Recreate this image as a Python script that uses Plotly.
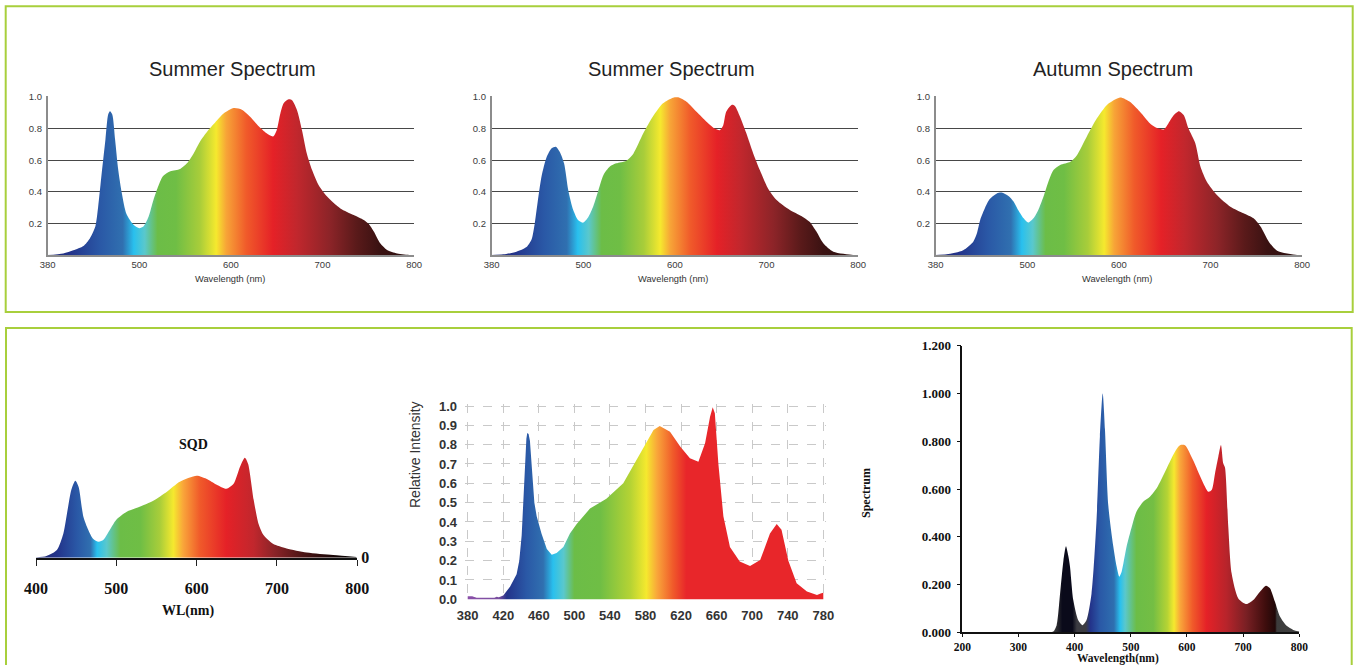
import plotly.graph_objects as go

W, H = 1354, 665

# ---------------- data ----------------
summer1_wl = [400, 417, 428, 439, 446, 452, 455, 459, 463, 466, 468, 470.5, 473.6, 477, 481, 486, 494, 500,
              504.5, 510, 515.5, 521, 526, 534, 544.6, 552, 559, 566.5, 574, 583, 592, 603, 612, 621, 630,
              639, 646, 650, 654, 657.6, 663, 666.7, 672, 677.6, 683, 688.5, 696, 705, 719.5, 734, 745,
              750.5, 756, 763, 770.5, 781.5, 796, 800]
summer1_val = [0, 0.01, 0.03, 0.057, 0.105, 0.18, 0.3, 0.52, 0.73, 0.89, 0.91, 0.89, 0.73, 0.54, 0.39, 0.26,
               0.19, 0.17, 0.18, 0.24, 0.35, 0.44, 0.5, 0.53, 0.545, 0.58, 0.64, 0.72, 0.78, 0.84, 0.895, 0.93,
               0.92, 0.875, 0.816, 0.77, 0.75, 0.79, 0.895, 0.96, 0.985, 0.98, 0.92, 0.79, 0.64, 0.54, 0.44,
               0.37, 0.295, 0.253, 0.222, 0.196, 0.148, 0.074, 0.032, 0.01, 0, 0]

summer2_wl = [400, 412.7, 427, 438, 443.6, 447, 451, 454.5, 460, 465.5, 470, 474.5, 479, 483.6, 489, 494.5,
              500, 505.5, 511, 516, 522, 529, 536, 547, 554.5, 565.5, 576, 587, 598, 603.6, 612.7, 623.6,
              634.5, 643.6, 649, 652.7, 656, 662, 665.5, 671, 678, 685.5, 692.7, 701.8, 711, 725.5, 738,
              747, 754.5, 762, 773, 794.5, 800]
summer2_val = [0, 0.004, 0.02, 0.05, 0.1, 0.2, 0.37, 0.5, 0.62, 0.675, 0.685, 0.65, 0.58, 0.41, 0.285, 0.22,
               0.205, 0.24, 0.31, 0.4, 0.506, 0.56, 0.58, 0.597, 0.64, 0.77, 0.876, 0.96, 0.996, 0.998, 0.97,
               0.907, 0.844, 0.8, 0.79, 0.82, 0.907, 0.95, 0.943, 0.876, 0.77, 0.643, 0.538, 0.42, 0.348,
               0.285, 0.247, 0.21, 0.148, 0.074, 0.02, 0, 0]

autumn_wl = [400, 412, 430, 441, 445, 448.5, 454, 459, 466.7, 472, 479.4, 485, 490, 496, 501, 506.7, 512,
             517.7, 523, 528.6, 535.9, 547, 554, 565, 576, 587, 598, 603, 612, 623, 634, 643, 649, 654, 660,
             665.6, 670.7, 676, 683.4, 689, 696, 707, 721.7, 736, 747, 754.6, 763.7, 772.7, 794.5, 800]
autumn_val = [0, 0.004, 0.03, 0.084, 0.137, 0.22, 0.3, 0.354, 0.39, 0.395, 0.373, 0.338, 0.285, 0.232, 0.205,
              0.232, 0.285, 0.37, 0.464, 0.538, 0.57, 0.59, 0.63, 0.75, 0.865, 0.95, 0.99, 0.996, 0.97,
              0.907, 0.833, 0.8, 0.795, 0.833, 0.886, 0.91, 0.886, 0.8, 0.707, 0.56, 0.464, 0.38, 0.306,
              0.264, 0.232, 0.18, 0.084, 0.027, 0, 0]

sqd_wl = [400, 413, 426, 434, 440, 444, 449, 453, 459, 465, 471, 478, 484, 492, 500, 513, 529, 546, 563, 579,
          600, 612, 625, 637, 646, 654, 660, 664, 671, 677, 683, 695, 712, 737, 770, 799]
sqd_val = [0.003, 0.017, 0.077, 0.24, 0.51, 0.68, 0.77, 0.71, 0.41, 0.28, 0.19, 0.16, 0.18, 0.28, 0.38, 0.46,
           0.51, 0.57, 0.66, 0.76, 0.82, 0.79, 0.73, 0.69, 0.74, 0.91, 1.0, 0.94, 0.58, 0.34, 0.23, 0.14,
           0.093, 0.053, 0.027, 0.007]

rel_wl = [380, 385, 390, 400, 410, 412.6, 415, 420, 427.6, 435, 438, 440.7, 442.5, 444.5, 446, 447, 448.5,
          450, 452, 455, 457.6, 463, 469, 474.5, 480, 487.6, 495, 502.6, 517.6, 536, 555, 574, 589, 596,
          607.6, 619, 630, 639.5, 647, 652.6, 655.6, 658, 662, 667.6, 675, 686, 697.6, 709, 720, 727.6,
          733, 740.7, 750, 761.6, 772.9, 777, 780]
rel_val = [0.016, 0.016, 0.008, 0.007, 0.008, 0.013, 0.01, 0.02, 0.065, 0.13, 0.2, 0.33, 0.5, 0.72, 0.83,
           0.86, 0.855, 0.82, 0.67, 0.5, 0.43, 0.34, 0.26, 0.23, 0.24, 0.27, 0.34, 0.39, 0.47, 0.52, 0.6,
           0.755, 0.876, 0.897, 0.867, 0.79, 0.73, 0.712, 0.807, 0.945, 0.993, 0.962, 0.7, 0.43, 0.27, 0.195,
           0.172, 0.203, 0.34, 0.39, 0.36, 0.2, 0.083, 0.04, 0.022, 0.03, 0.034]

spec_wl = [200, 356, 362, 368, 374, 380, 384.6, 388.7, 391.7, 397.6, 406.5, 414, 421, 430, 439, 445, 450, 454,
           460, 468.8, 474.8, 479.5, 483.7, 492.6, 501.5, 510, 522, 534, 546, 563.8, 578.6, 587.5, 596.4,
           611, 626, 638, 644, 650, 655.8, 660.5, 664.7, 667.7, 673.6, 679.5, 691.4, 706, 718, 730, 740.7,
           747.8, 756.7, 765.6, 777.4, 789.3, 800]
spec_val = [0, 0, 0.003, 0.03, 0.16, 0.3, 0.36, 0.32, 0.275, 0.135, 0.05, 0.03, 0.05, 0.16, 0.47, 0.82, 1.0,
            0.85, 0.53, 0.36, 0.275, 0.233, 0.254, 0.36, 0.44, 0.505, 0.547, 0.568, 0.603, 0.686, 0.756,
            0.783, 0.783, 0.72, 0.64, 0.589, 0.596, 0.666, 0.735, 0.784, 0.707, 0.69, 0.44, 0.247, 0.142,
            0.118, 0.135, 0.17, 0.195, 0.184, 0.128, 0.066, 0.027, 0.01, 0.003]

top_xticks = [400, 500, 600, 700, 800]
top_xticktext = ["380", "500", "600", "700", "800"]
top_yticks = [0.2, 0.4, 0.6, 0.8, 1.0]
top_yticktext = ["0.2", "0.4", "0.6", "0.8", "1.0"]
sqd_xticks = [400, 500, 600, 700, 800]
rel_xticks = [380, 420, 460, 500, 540, 580, 620, 660, 700, 740, 780]
rel_yticks = [0.0, 0.1, 0.2, 0.3, 0.4, 0.5, 0.6, 0.7, 0.8, 0.9, 1.0]
spec_xticks = [200, 300, 400, 500, 600, 700, 800]
spec_yticks = [0.0, 0.2, 0.4, 0.6, 0.8, 1.0, 1.2]
spec_yticktext = ["0.000", "0.200", "0.400", "0.600", "0.800", "1.000", "1.200"]

# ---------------- styles ----------------
top_colors = [(400, "#202a78"), (425, "#23338a"), (457, "#2a58a6"), (482, "#3070b0"), (494, "#29c0ee"),
              (506, "#5ac8cc"), (520, "#6cbd47"), (540, "#6fbe45"), (566, "#a8cd3a"), (584, "#f5e92e"),
              (595, "#f7a437"), (617, "#f05a2a"), (646, "#e52127"), (672, "#c1272d"), (708, "#8c2428"),
              (737, "#5a1a1a"), (762, "#3a1212"), (800, "#2a0f0f")]
sqd_colors = [(400, "#222a70"), (426, "#23338a"), (451, "#2a58a6"), (468, "#3070b0"), (476, "#29c0ee"),
              (488, "#5ac8cc"), (505, "#6cbd47"), (530, "#6fbe45"), (554, "#a8cd3a"), (571, "#f5e92e"),
              (583, "#f9a63a"), (604, "#f05a2a"), (637, "#e52127"), (671, "#c1272d"), (696, "#8c2428"),
              (733, "#4a1414"), (774, "#150505"), (800, "#000000")]
rel_colors = [(380, "#8a4fa8"), (415, "#7a4fa0"), (424, "#23338a"), (446, "#2a58a6"), (465, "#3070b0"),
              (476, "#29c0ee"), (488, "#5ac8cc"), (500, "#6cbd47"), (529, "#6fbe45"), (563, "#b5d334"),
              (581, "#f5e92e"), (593, "#f9a63a"), (611, "#f05a2a"), (626, "#e8262a"), (780, "#e8262a")]
spec_colors = [(200, "#404040"), (362, "#404040"), (372, "#202028"), (378, "#0a0a1a"), (396, "#0a0a1a"),
               (404, "#3c3c42"), (420, "#3c3c42"), (428, "#23338a"), (445, "#2a58a6"), (470, "#2e6fb0"),
               (481, "#29c0ee"), (490, "#5ac8cc"), (510, "#6cbd47"), (540, "#74be44"), (565, "#b5d334"),
               (577, "#f5e92e"), (588, "#f9a63a"), (610, "#f05a2a"), (635, "#e52127"), (670, "#b8242b"),
               (705, "#7a2024"), (740, "#3e0d0d"), (757, "#200808"), (760, "#3c3c3c"), (800, "#404040")]


def cscale(stops):
    lo, hi = stops[0][0], stops[-1][0]
    return [[(w - lo) / (hi - lo), c] for w, c in stops], lo, hi


def dom_x(p0, p1):
    return [p0 / W, p1 / W]


def dom_y(ptop, pbot):
    return [1 - pbot / H, 1 - ptop / H]


def px_for(v, v0, p0, v1, p1):
    return p0 + (v - v0) * (p1 - p0) / (v1 - v0)


fig = go.Figure()


def add_area(x, y, stops, xa, ya, shape="spline"):
    cs, lo, hi = cscale(stops)
    fig.add_trace(go.Scatter(
        x=x, y=y, mode="lines", fill="tozeroy",
        line=dict(width=0, shape=shape, smoothing=0.7, color="rgba(0,0,0,0)"),
        fillgradient=dict(type="horizontal", colorscale=cs, start=lo, stop=hi),
        xaxis=xa, yaxis=ya, hoverinfo="skip", showlegend=False))


add_area(summer1_wl, summer1_val, top_colors, "x", "y")
add_area(summer2_wl, summer2_val, top_colors, "x2", "y2")
add_area(autumn_wl, autumn_val, top_colors, "x3", "y3")
add_area(sqd_wl, sqd_val, sqd_colors, "x4", "y4")
add_area(rel_wl, rel_val, rel_colors, "x5", "y5", shape="linear")
add_area(spec_wl, spec_val, spec_colors, "x6", "y6", shape="spline")

layout = dict(template="none", width=W, height=H,
              margin=dict(l=0, r=0, t=0, b=0, pad=0, autoexpand=False),
              paper_bgcolor="white", plot_bgcolor="rgba(0,0,0,0)", showlegend=False,
              font=dict(family="Liberation Sans", color="#333"))

# --- top three charts ---
top_left_px = [47.7, 491.7, 935.7]
y_top_range = [0, 1.004]
for i, lp in enumerate(top_left_px):
    n = "" if i == 0 else str(i + 1)
    rp = lp + 4 * 91.6
    yb = 255.0
    yt = px_for(1.004, 0, 255.0, 1.0, 97.0)
    layout["xaxis" + n] = dict(
        domain=dom_x(lp, rp), range=[400, 800], anchor="y" + n, automargin=False,
        tickvals=top_xticks, ticktext=top_xticktext, ticks="", showgrid=False, zeroline=False,
        showline=True, linecolor="#8c8c8c", linewidth=2,
        tickfont=dict(family="Liberation Sans", size=9.5, color="#3a3a3a"), ticklabelstandoff=0)
    layout["yaxis" + n] = dict(
        domain=dom_y(yt, yb), range=y_top_range, anchor="x" + n, automargin=False,
        tickvals=top_yticks, ticktext=top_yticktext, ticks="", showgrid=True, gridcolor="#474747",
        gridwidth=1.3, zeroline=False, showline=True, linecolor="#8c8c8c", linewidth=1.5,
        tickfont=dict(family="Liberation Sans", size=9.5, color="#3a3a3a"), ticklabelstandoff=2)

# --- SQD chart ---
sqd_y0, sqd_y1 = 557.7, 457.7  # px for 0 and 1.0
layout["xaxis4"] = dict(
    domain=dom_x(36, 357.3), range=[400, 800], anchor="y4", automargin=False, tickvals=sqd_xticks,
    ticks="outside", ticklen=6, tickwidth=1.3, tickcolor="#222", showgrid=False, zeroline=False,
    showline=True, linecolor="#111", linewidth=1.6,
    tickfont=dict(family="Liberation Serif", size=16, color="#111", weight="bold"), ticklabelstandoff=9)
layout["xaxis7"] = dict(
    domain=dom_x(36, 357.3), range=[400, 800], anchor="y4", overlaying="x4", automargin=False,
    tickvals=[400, 800], ticks="inside", ticklen=6, tickwidth=1.3, tickcolor="#222",
    showticklabels=False, showgrid=False, zeroline=False, showline=False)
layout["yaxis4"] = dict(
    domain=dom_y(px_for(1.1, 0, sqd_y0, 1, sqd_y1), sqd_y0), range=[0, 1.1], anchor="x4", side="right",
    automargin=False, tickvals=[0], ticktext=["0"], ticks="", showgrid=False, zeroline=False,
    showline=False, tickfont=dict(family="Liberation Serif", size=16, color="#111", weight="bold"),
    ticklabelstandoff=3)

# --- Relative intensity chart ---
rx0 = px_for(377, 380, 467.7, 780, 823.3)
rx1 = px_for(783, 380, 467.7, 780, 823.3)
ry0 = px_for(-0.005, 0, 599.3, 1.0, 406)
ry1 = px_for(1.008, 0, 599.3, 1.0, 406)
grid_dash = dict(showgrid=True, gridcolor="#c9c9c9", gridwidth=1, griddash="dash")
layout["xaxis5"] = dict(
    domain=dom_x(rx0, rx1), range=[377, 783], anchor="y5", automargin=False, tickvals=rel_xticks,
    ticks="", zeroline=False, showline=False,
    tickfont=dict(family="Liberation Sans", size=13, color="#333", weight="bold"), ticklabelstandoff=6,
    **grid_dash)
layout["yaxis5"] = dict(
    domain=dom_y(ry1, ry0), range=[-0.005, 1.008], anchor="x5", automargin=False, tickvals=rel_yticks,
    ticktext=["%.1f" % v for v in rel_yticks], ticks="", zeroline=False, showline=False,
    tickfont=dict(family="Liberation Sans", size=13, color="#333", weight="bold"), ticklabelstandoff=7,
    **grid_dash)

# --- Spectrum chart ---
layout["xaxis6"] = dict(
    domain=dom_x(962.3, 1299.3), range=[200, 800], anchor="y6", automargin=False, tickvals=spec_xticks,
    ticks="outside", ticklen=3, tickcolor="#111", showgrid=False, zeroline=False, showline=True,
    linecolor="#111", linewidth=1.5,
    tickfont=dict(family="Liberation Serif", size=11.5, color="#111", weight="bold"), ticklabelstandoff=0)
layout["yaxis6"] = dict(
    domain=dom_y(345.7, 632.3), range=[0, 1.2], anchor="x6", automargin=False, tickvals=spec_yticks,
    ticktext=spec_yticktext, ticks="outside", ticklen=4, tickcolor="#111", showgrid=False,
    zeroline=False, showline=True, linecolor="#111", linewidth=1.5,
    tickfont=dict(family="Liberation Serif", size=13, color="#111", weight="bold"), ticklabelstandoff=3)

# --- borders ---
green = "#a8cf3c"
layout["shapes"] = [
    dict(type="rect", xref="paper", yref="paper", x0=5.7 / W, x1=1352.7 / W, y0=1 - 312 / H, y1=1 - 6.3 / H,
         line=dict(color=green, width=2), fillcolor="rgba(0,0,0,0)", layer="below"),
    dict(type="rect", xref="paper", yref="paper", x0=6 / W, x1=1351.7 / W, y0=-0.05, y1=1 - 328 / H,
         line=dict(color=green, width=2), fillcolor="rgba(0,0,0,0)", layer="below"),
]

ann = []


def text(x, y, s, size, family="Liberation Sans", color="#222", weight="normal", angle=0):
    ann.append(dict(x=x / W, y=1 - y / H, xref="paper", yref="paper", text=s, showarrow=False,
                    xanchor="center", yanchor="middle", textangle=angle,
                    font=dict(family=family, size=size, color=color, weight=weight)))


text(232.7, 69.3, "Summer Spectrum", 20)
text(671.7, 69.3, "Summer Spectrum", 20)
text(1113.3, 69.3, "Autumn Spectrum", 20)
for cx in [229.5, 673.3, 1117.3]:
    text(cx, 279, "Wavelength (nm)", 9.3, color="#333")
text(193, 444.3, "SQD", 14, family="Liberation Serif", color="#111", weight="bold")
text(188, 610.7, "WL(nm)", 14, family="Liberation Serif", color="#111", weight="bold")
text(415, 455, "Relative Intensity", 14, color="#333", angle=-90)
text(866.7, 493.3, "Spectrum", 12, family="Liberation Serif", color="#111", weight="bold", angle=-90)
text(1118.3, 658.3, "Wavelength(nm)", 11.5, family="Liberation Serif", color="#111", weight="bold")
layout["annotations"] = ann

fig.update_layout(**layout)

fix_js = "document.body.style.margin='0';document.body.style.overflow='hidden';"
fig.write_html("out.html", config={"displayModeBar": False}, post_script=fix_js)
